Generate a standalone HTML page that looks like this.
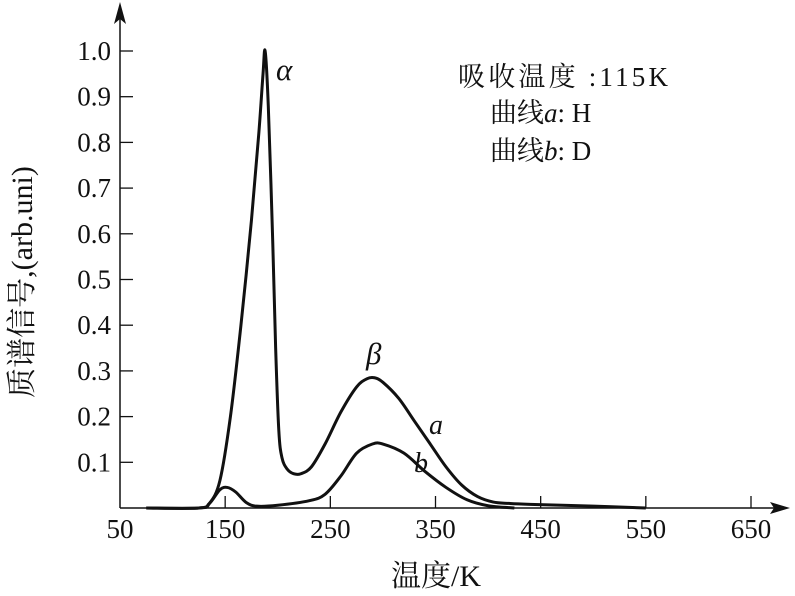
<!DOCTYPE html>
<html><head><meta charset="utf-8"><style>
body{margin:0;background:#fff}
svg text{font-family:"Liberation Serif","Noto Serif CJK SC",serif;fill:#111}
</style></head><body>
<svg width="795" height="591" viewBox="0 0 795 591">
<g id="axes"></g>
<g id="series"></g>
<text x="276" y="80" font-size="31" font-style="italic">α</text>
<text x="366" y="364" font-size="31" font-style="italic">β</text>
<text x="429" y="434" font-size="28" font-style="italic">a</text>
<text x="414" y="472" font-size="28" font-style="italic">b</text>
<g font-size="27">
<text x="458" y="86" textLength="210">吸收温度 :115K</text>
<text x="490" y="122">曲线<tspan font-style="italic">a</tspan>: H</text>
<text x="490" y="160">曲线<tspan font-style="italic">b</tspan>: D</text>
</g>
<text x="436" y="586" font-size="30" text-anchor="middle">温度/K</text>
<text transform="translate(32,282) rotate(-90)" font-size="30" text-anchor="middle">质谱信号,(arb.uni)</text>
</svg>
<script>
const xTicks=[50,150,250,350,450,550,650];
const yTicks=[0.1,0.2,0.3,0.4,0.5,0.6,0.7,0.8,0.9,1.0];
const aK=[75,125,135,145,155,165,175,182,186,188,191,195,198,201,204,209,215,222,232,245,260,275,285,292,300,315,330,345,360,375,390,405,420,440,500,550];
const aV=[0,0,0.01,0.06,0.2,0.4,0.63,0.82,0.95,1.0,0.88,0.6,0.35,0.17,0.11,0.085,0.075,0.075,0.09,0.14,0.21,0.265,0.283,0.285,0.275,0.24,0.19,0.14,0.09,0.05,0.025,0.013,0.01,0.008,0.004,0];
const bK=[75,125,135,145,152,160,170,180,200,230,245,260,275,290,300,320,340,360,380,400,425];
const bV=[0,0,0.01,0.04,0.045,0.035,0.012,0.004,0.006,0.016,0.03,0.07,0.12,0.14,0.14,0.12,0.08,0.045,0.018,0.005,0];
const ns="http://www.w3.org/2000/svg";
const X=k=>120+(k-50)*(631/600);
const Y=v=>508-v*457;
function mk(t,a,p){const e=document.createElementNS(ns,t);for(const k in a)e.setAttribute(k,a[k]);p.appendChild(e);return e;}
const ax=document.getElementById('axes');
let e=mk('line',{x1:120,y1:508,x2:782,y2:508,stroke:'#111','stroke-width':1.5},ax);


e=mk('line',{x1:120,y1:508,x2:120,y2:12,stroke:'#111','stroke-width':1.5},ax);


mk('path',{d:'M790 508 L770 502 L774 508 L770 514Z',fill:'#111'},ax);
mk('path',{d:'M120 2 L114 24 L120 19 L126 24Z',fill:'#111'},ax);
xTicks.forEach(t=>{
 const x=X(t);
 if(t>50)mk('line',{x1:x,y1:508,x2:x,y2:496,stroke:'#111','stroke-width':1.3},ax);
 const tx=mk('text',{x:x,y:538,'font-size':27,'text-anchor':'middle'},ax);tx.textContent=t;
 
 
});
yTicks.forEach(t=>{
 const y=Y(t);
 mk('line',{x1:120,y1:y,x2:133,y2:y,stroke:'#111','stroke-width':1.3},ax);
 const tx=mk('text',{x:111,y:y+9,'font-size':27,'text-anchor':'end'},ax);tx.textContent=t.toFixed(1);
 
 
});
function path(K,V){
 const p=K.map((k,i)=>[X(k),Y(V[i])]);
 let d='M'+p[0][0]+' '+p[0][1];
 for(let i=0;i<p.length-1;i++){
  const p0=p[i-1]||p[i],p1=p[i],p2=p[i+1],p3=p[i+2]||p2;
  const c1=[p1[0]+(p2[0]-p0[0])/6,p1[1]+(p2[1]-p0[1])/6];
  const c2=[p2[0]-(p3[0]-p1[0])/6,p2[1]-(p3[1]-p1[1])/6];
  d+=` C${c1[0]} ${c1[1]} ${c2[0]} ${c2[1]} ${p2[0]} ${p2[1]}`;
 }
 return d;
}
const sg=document.getElementById('series');
e=mk('path',{d:path(aK,aV),fill:'none',stroke:'#111','stroke-width':3,'stroke-linejoin':'round'},sg);


e=mk('path',{d:path(bK,bV),fill:'none',stroke:'#111','stroke-width':3,'stroke-linejoin':'round'},sg);


</script>
</body></html>
